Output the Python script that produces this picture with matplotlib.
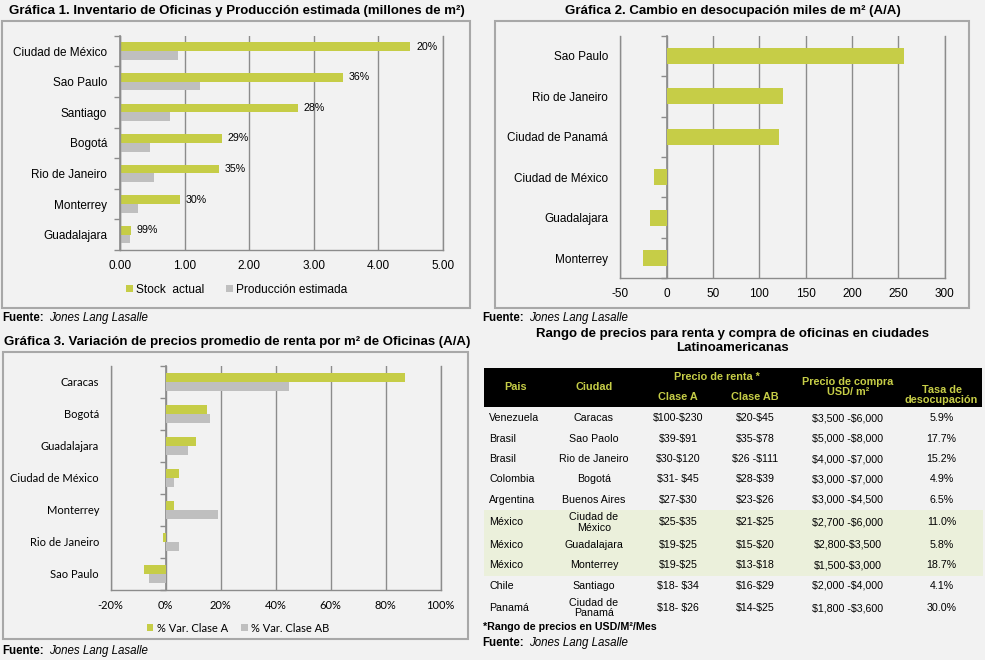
import matplotlib
matplotlib.use("Agg")
import matplotlib.pyplot as plt
import numpy as np
from matplotlib.patches import Rectangle

plt.rcParams["font.family"] = ["Liberation Sans", "DejaVu Sans"]
plt.rcParams["axes.unicode_minus"] = False

BG = "#f2f2f2"
GREEN = "#c6cd47"
GRAY = "#bfbfbf"
GRID = "#8c8c8c"
BORDER = "#a8a8a8"
W, H = 985, 660

# Gráfica 1: inventario (millones de m2)
inv_ciudades = ["Ciudad de México", "Sao Paulo", "Santiago", "Bogotá",
                "Rio de Janeiro", "Monterrey", "Guadalajara"]
inv_stock = [4.50, 3.45, 2.75, 1.58, 1.53, 0.93, 0.16]
inv_produccion = [0.90, 1.24, 0.77, 0.46, 0.53, 0.27, 0.155]
inv_pct = ["20%", "36%", "28%", "29%", "35%", "30%", "99%"]

# Gráfica 2: cambio en desocupación (miles de m2)
des_ciudades = ["Sao Paulo", "Rio de Janeiro", "Ciudad de Panamá",
                "Ciudad de México", "Guadalajara", "Monterrey"]
des_cambio = [256, 126, 121, -14, -18, -26]

# Gráfica 3: variación de precios de renta (%)
renta_ciudades = ["Caracas", "Bogotá", "Guadalajara", "Ciudad de México",
                  "Monterrey", "Rio de Janeiro", "Sao Paulo"]
renta_clase_a = [87, 15, 11, 5, 3, -1, -8]
renta_clase_ab = [45, 16, 8, 3, 19, 5, -6]

# Tabla de precios
tab_pais = ["Venezuela", "Brasil", "Brasil", "Colombia", "Argentina",
            "México", "México", "México", "Chile", "Panamá"]
tab_ciudad = ["Caracas", "Sao Paolo", "Rio de Janeiro", "Bogotá", "Buenos Aires",
              "Ciudad de\nMéxico", "Guadalajara", "Monterrey", "Santiago",
              "Ciudad de\nPanamá"]
tab_clase_a = ["$100-$230", "$39-$91", "$30-$120", "$31- $45", "$27-$30",
               "$25-$35", "$19-$25", "$19-$25", "$18- $34", "$18- $26"]
tab_clase_ab = ["$20-$45", "$35-$78", "$26 -$111", "$28-$39", "$23-$26",
                "$21-$25", "$15-$20", "$13-$18", "$16-$29", "$14-$25"]
tab_compra = ["$3,500 -$6,000", "$5,000 -$8,000", "$4,000 -$7,000", "$3,000 -$7,000",
              "$3,000 -$4,500", "$2,700 -$6,000", "$2,800-$3,500", "$1,500-$3,000",
              "$2,000 -$4,000", "$1,800 -$3,600"]
tab_tasa = ["5.9%", "17.7%", "15.2%", "4.9%", "6.5%", "11.0%", "5.8%", "18.7%",
            "4.1%", "30.0%"]


def px_rect(x0, y0, x1, y1):
    return [x0 / W, 1 - y1 / H, (x1 - x0) / W, (y1 - y0) / H]


def style_chart(ax, xlim, xticks, fmt, cats, label_pad, family=None, size=8.5):
    ax.set_facecolor("none")
    ax.set_xlim(xlim)
    ax.set_xticks(xticks)
    ax.set_xticklabels([fmt(v) for v in xticks])
    ax.set_ylim(len(cats) - 0.5, -0.5)
    ax.set_yticks(range(len(cats)))
    ax.set_yticklabels(cats)
    ax.grid(axis="x", color=GRID, lw=1.0)
    ax.set_axisbelow(True)
    ax.spines["top"].set_visible(False)
    for s in ("left", "right", "bottom"):
        ax.spines[s].set_color(GRID)
        ax.spines[s].set_linewidth(1.0)
    ax.tick_params(axis="y", length=0, pad=label_pad, labelsize=size)
    ax.tick_params(axis="x", length=0, pad=7, labelsize=size)
    if family:
        ax.tick_params(labelfontfamily=family)
    # category axis at zero, with ticks between categories
    frac = (0 - xlim[0]) / (xlim[1] - xlim[0])
    sec = ax.secondary_yaxis(frac)
    sec.set_yticks(np.arange(-0.5, len(cats), 1.0), labels=[""] * (len(cats) + 1))
    sec.tick_params(length=4, width=1.0, color=GRID)
    sec.spines["left"].set_color(GRID)
    sec.spines["left"].set_linewidth(1.2)


fig = plt.figure(figsize=(W / 100, H / 100), dpi=100, facecolor=BG)
bg = fig.add_axes([0, 0, 1, 1], zorder=-1)
bg.set_xlim(0, W)
bg.set_ylim(H, 0)
bg.axis("off")


def fuente(x, y):
    t = bg.text(x, y, "Fuente:", fontweight="bold", fontsize=8.3, va="center", ha="left")
    bg.annotate("Jones Lang Lasalle", xy=(1, 0.5), xycoords=t, xytext=(3.4, 0),
                textcoords="offset points", va="center", ha="left",
                fontstyle="italic", fontsize=8.3)


# ---- Gráfica 1
bg.add_patch(Rectangle((2, 21), 468, 287, fill=False, ec=BORDER, lw=1.5))
bg.text(237, 11, "Gráfica 1. Inventario de Oficinas y Producción estimada (millones de m²)",
        ha="center", va="center", fontweight="bold", fontsize=9.5)
ax1 = fig.add_axes(px_rect(120.3, 35.7, 442.7, 250))
y1 = np.arange(len(inv_ciudades))
h1 = 0.285
ax1.barh(y1 - h1 / 2, inv_stock, height=h1, color=GREEN, label="Stock  actual")
ax1.barh(y1 + h1 / 2, inv_produccion, height=h1, color=GRAY, label="Producción estimada")
for yi, v, p in zip(y1, inv_stock, inv_pct):
    ax1.text(v + 0.09, yi - h1 / 2, p, va="center", ha="left", fontsize=7.7)
style_chart(ax1, (0, 5), np.arange(0, 5.01, 1), lambda v: f"{v:.2f}", inv_ciudades, 9.5)
ax1.legend(loc="center", bbox_to_anchor=(237 / W, 1 - 290 / H), bbox_transform=fig.transFigure,
           ncol=2, frameon=False, handlelength=0.55, handleheight=0.55, handletextpad=0.3,
           columnspacing=1.8, fontsize=8.6)
fuente(2.7, 318)

# ---- Gráfica 2
bg.add_patch(Rectangle((495, 21), 474, 287, fill=False, ec=BORDER, lw=1.5))
bg.text(733, 11, "Gráfica 2. Cambio en desocupación miles de m² (A/A)",
        ha="center", va="center", fontweight="bold", fontsize=9.5)
ax2 = fig.add_axes(px_rect(620.3, 35.7, 944.7, 278.3))
y2 = np.arange(len(des_ciudades))
ax2.barh(y2, des_cambio, height=0.4, color=GREEN)
style_chart(ax2, (-50, 300), np.arange(-50, 301, 50), lambda v: f"{v:.0f}", des_ciudades, 8.8)
fuente(482.7, 318)

# ---- Gráfica 3
bg.add_patch(Rectangle((3, 352), 465, 287, fill=False, ec=BORDER, lw=1.5))
bg.text(237, 341.7, "Gráfica 3. Variación de precios promedio de renta por m² de Oficinas (A/A)",
        ha="center", va="center", fontweight="bold", fontsize=9.5)
ax3 = fig.add_axes(px_rect(110.7, 366, 440.7, 590))
y3 = np.arange(len(renta_ciudades))
h3 = 0.27
ax3.barh(y3 - h3 / 2, renta_clase_a, height=h3, color=GREEN, label="% Var. Clase A")
ax3.barh(y3 + h3 / 2, renta_clase_ab, height=h3, color=GRAY, label="% Var. Clase AB")
style_chart(ax3, (-20, 100), np.arange(-20, 101, 20), lambda v: f"{v:.0f}%", renta_ciudades,
            8.4, family="Lato", size=8.0)
ax3.legend(loc="center", bbox_to_anchor=(238 / W, 1 - 628 / H), bbox_transform=fig.transFigure,
           ncol=2, frameon=False, handlelength=0.6, handleheight=0.6, handletextpad=0.3,
           columnspacing=1.2, prop={"family": "Lato", "size": 8.0})
fuente(2.7, 651)

# ---- Tabla
bg.text(732, 340.7, "Rango de precios para renta y compra de oficinas en ciudades\nLatinoamericanas",
        ha="center", va="center", fontweight="bold", fontsize=9.5, linespacing=1.25)
bg.add_patch(Rectangle((484, 368), 498, 39, fc="black", ec="none"))
bg.add_patch(Rectangle((484, 510), 499, 66, fc="#ebf0db", ec="none"))
hdr = dict(color=GREEN, fontweight="bold", fontsize=7.8, ha="center", va="center")
bg.text(516, 387.5, "Pais", **hdr)
bg.text(594, 387.5, "Ciudad", **hdr)
bg.text(717, 377.5, "Precio de renta *", **hdr)
bg.text(678, 397.5, "Clase A", **hdr)
bg.text(755, 397.5, "Clase AB", **hdr)
bg.text(848, 387, "Precio de compra\nUSD/ m²", linespacing=1.0, **hdr)
bg.text(941.5, 395, "Tasa de\ndesocupación", linespacing=1.05, **hdr)

col_x = [594, 678, 755, 848, 941.5]
row_y = 418.3
for i in range(len(tab_pais)):
    bg.text(489, row_y, tab_pais[i], ha="left", va="center", fontsize=7.7)
    cells = [tab_ciudad[i], tab_clase_a[i], tab_clase_ab[i], tab_compra[i], tab_tasa[i]]
    for x, c in zip(col_x, cells):
        bg.text(x, row_y, c, ha="center", va="center", fontsize=7.7, linespacing=1.05,
                parse_math=False)
    if i + 1 < len(tab_pais):
        tall = "\n" in tab_ciudad[i] or "\n" in tab_ciudad[i + 1]
        row_y += 22.5 if tall else 20.4

bg.text(482.7, 627.3, "*Rango de precios en USD/M²/Mes", fontweight="bold", fontsize=7.7,
        ha="left", va="center")
fuente(482.7, 643.3)

fig.savefig("out.png", dpi=100, facecolor=BG)
